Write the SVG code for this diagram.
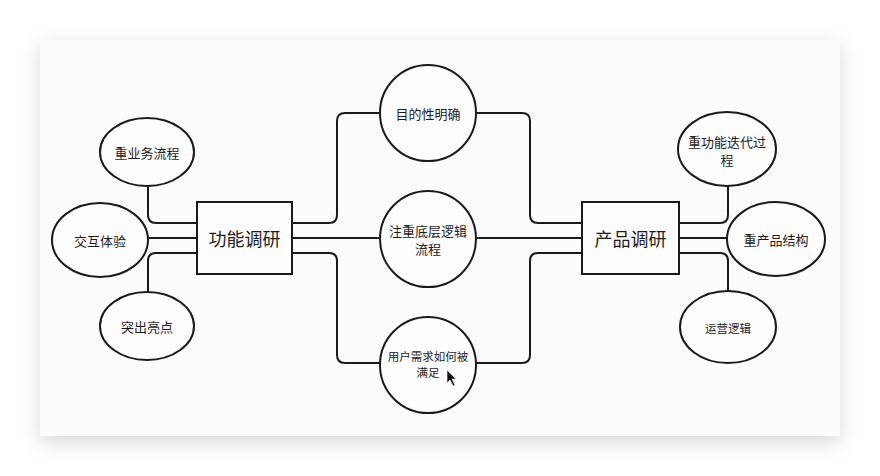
<svg xmlns="http://www.w3.org/2000/svg" width="880" height="476" viewBox="0 0 880 476">
  <defs>
    <filter id="shadow" x="-10%" y="-10%" width="120%" height="130%">
      <feDropShadow dx="0" dy="6" stdDeviation="10" flood-color="#000" flood-opacity="0.16"/>
    </filter>
    <style>
      .shape { fill: #fdfdfd; stroke: #1a1a1a; stroke-width: 2; }
      .conn { fill: none; stroke: #1a1a1a; stroke-width: 2; stroke-linejoin: round; }
      .t { font-family: "Noto Sans CJK SC", "Liberation Sans", sans-serif; fill: #1c1c1c; text-anchor: middle; dominant-baseline: central; }
      .big { font-size: 18px; }
      .mid { font-size: 13px; }
      .sm { font-size: 11.5px; }
    </style>
  </defs>
  <rect x="0" y="0" width="880" height="476" fill="#ffffff"/>
  <rect x="40" y="40" width="800" height="396" fill="#fbfbfb" filter="url(#shadow)"/>

  <g id="connectors">
    <!-- left satellites -->
    <path class="conn" d="M148 186 V215 Q148 223 156 223 H197"/>
    <path class="conn" d="M148 238 H197"/>
    <path class="conn" d="M197 253 H156 Q148 253 148 261 V292"/>
    <!-- center branches -->
    <path class="conn" d="M292 223 H329 Q337 223 337 215 V121 Q337 113 345 113 H380"/>
    <path class="conn" d="M476 113 H522 Q530 113 530 121 V215 Q530 223 538 223 H582"/>
    <path class="conn" d="M292 238 H380"/>
    <path class="conn" d="M476 238 H582"/>
    <path class="conn" d="M292 253 H329 Q337 253 337 261 V355 Q337 363 345 363 H380"/>
    <path class="conn" d="M476 363 H522 Q530 363 530 355 V261 Q530 253 538 253 H582"/>
    <!-- right satellites -->
    <path class="conn" d="M679 223 H720 Q728 223 728 215 V186"/>
    <path class="conn" d="M679 238 H727"/>
    <path class="conn" d="M679 253 H720 Q728 253 728 261 V291"/>
  </g>

  <g id="node-gongneng">
    <rect class="shape" x="197" y="202" width="95" height="72"/>
    <text class="t big" x="244.5" y="238">功能调研</text>
  </g>
  <g id="node-chanpin">
    <rect class="shape" x="582" y="202" width="97" height="72"/>
    <text class="t big" x="630.5" y="238">产品调研</text>
  </g>

  <g id="node-yewu">
    <ellipse class="shape" cx="147" cy="152" rx="47" ry="34"/>
    <text class="t mid" x="147" y="152">重业务流程</text>
  </g>
  <g id="node-jiaohu">
    <ellipse class="shape" cx="100" cy="240" rx="48" ry="37"/>
    <text class="t mid" x="100" y="240">交互体验</text>
  </g>
  <g id="node-liangdian">
    <ellipse class="shape" cx="147" cy="326" rx="47" ry="34"/>
    <text class="t mid" x="147" y="326">突出亮点</text>
  </g>

  <g id="node-mudi">
    <ellipse class="shape" cx="428" cy="113" rx="48" ry="48"/>
    <text class="t mid" x="428" y="113">目的性明确</text>
  </g>
  <g id="node-diceng">
    <ellipse class="shape" cx="428" cy="239" rx="48" ry="48"/>
    <text class="t mid" x="428" y="230">注重底层逻辑</text>
    <text class="t mid" x="428" y="248">流程</text>
  </g>
  <g id="node-xuqiu">
    <ellipse class="shape" cx="428" cy="365" rx="48" ry="48"/>
    <text class="t sm" x="428" y="356">用户需求如何被</text>
    <text class="t sm" x="428" y="372">满足</text>
  </g>

  <g id="node-diedai">
    <ellipse class="shape" cx="727" cy="149" rx="49" ry="37"/>
    <text class="t mid" x="727" y="141">重功能迭代过</text>
    <text class="t mid" x="727" y="159">程</text>
  </g>
  <g id="node-jiegou">
    <ellipse class="shape" cx="776" cy="239" rx="49" ry="37"/>
    <text class="t mid" x="776" y="239">重产品结构</text>
  </g>
  <g id="node-yunying">
    <ellipse class="shape" cx="728" cy="327" rx="48" ry="36"/>
    <text class="t sm" x="728" y="328">运营逻辑</text>
  </g>

  <!-- mouse pointer from the screenshot -->
  <path d="M447 370 L447 383 L450 380 L453 386 L455 385 L452 379 L456 379 Z" fill="#111" stroke="#fff" stroke-width="0.6"/>
</svg>
